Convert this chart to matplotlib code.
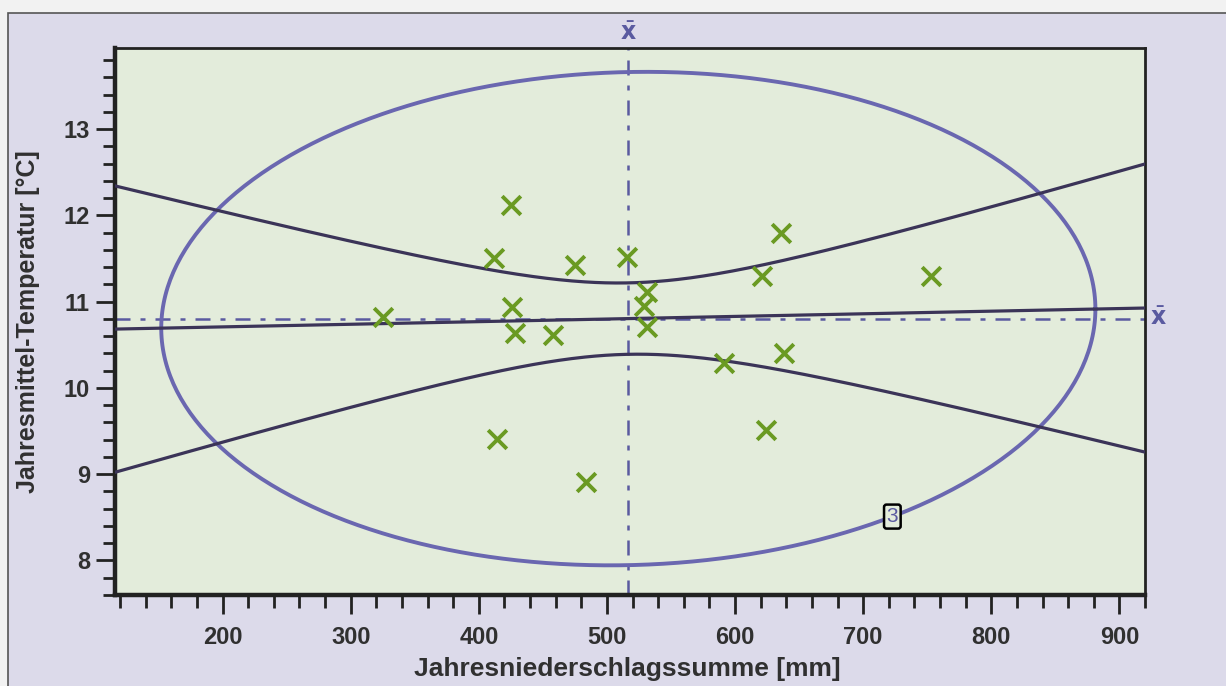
import numpy as np
import matplotlib.pyplot as plt
from matplotlib.patches import Rectangle

# Jahresniederschlag [mm] und Jahresmittel-Temperatur [°C]
niederschlag = [325, 425, 412, 475, 516, 636, 621, 531, 529, 531,
                426, 428, 458, 414, 484, 591, 638, 624, 753]
temperatur = [10.82, 12.12, 11.51, 11.42, 11.52, 11.80, 11.30, 11.11, 10.95, 10.71,
              10.94, 10.64, 10.61, 9.41, 8.91, 10.29, 10.40, 9.51, 11.30]

t_wert = 2.110        # t(0.975, n-2) fuer n = 19
chi2_3sigma = 11.829  # chi2(0.9973, 2) -> 3-sigma Ellipse
ellipse_label = "3"

plt.rcParams['font.family'] = ['Liberation Sans', 'DejaVu Sans']

X = np.array(niederschlag, dtype=float)
Y = np.array(temperatur, dtype=float)
n = X.size
xm, ym = X.mean(), Y.mean()

# Regression + Vertrauensband
b, a = np.polyfit(X, Y, 1)
res = Y - (a + b * X)
s = np.sqrt(np.sum(res**2) / (n - 2))
Sxx = np.sum((X - xm)**2)
xx = np.linspace(116, 920, 400)
yfit = a + b * xx
hw = t_wert * s * np.sqrt(1.0 / n + (xx - xm)**2 / Sxx)

# Streuellipse aus der Kovarianz
cov = np.cov(X, Y)
L = np.linalg.cholesky(cov)
k = np.sqrt(chi2_3sigma)
tt = np.linspace(0, 2 * np.pi, 400)
ell = np.array([xm, ym])[:, None] + k * L @ np.vstack([np.cos(tt), np.sin(tt)])

fig = plt.figure(figsize=(12.26, 6.86), dpi=100)
fig.patch.set_facecolor('#f2f2f2')
fig.patches.append(Rectangle((8 / 1226, -0.01), 1.0, (686 - 13) / 686 + 0.01,
                             transform=fig.transFigure, facecolor='#dcdaea',
                             edgecolor='#555555', linewidth=1.2, zorder=-10))

ax = fig.add_axes([115 / 1226, 1 - 595 / 686, 1030 / 1226, 547 / 686])
ax.set_zorder(1)
ax.set_facecolor('#e3ecdb')

lila = '#6a67b0'
dunkel = '#3b3458'
gruen = '#6a9a22'

ax.plot(ell[0], ell[1], color=lila, lw=2.8, zorder=3)
ax.plot(xx, yfit, color=dunkel, lw=2.3, zorder=3)
ax.plot(xx, yfit + hw, color=dunkel, lw=2.3, zorder=3)
ax.plot(xx, yfit - hw, color=dunkel, lw=2.3, zorder=3)
ax.axvline(xm, color='#5a5aa0', lw=1.8, ls=(0, (6, 4, 2, 4)), zorder=2)
ax.axhline(ym, color='#5a5aa0', lw=1.8, ls=(0, (6, 4, 2, 4)), zorder=2)

ax.scatter(X, Y, marker='x', s=180, color=gruen, linewidths=2.8, zorder=4)

# Beschriftung der Ellipse
t3 = -0.97
p3 = np.array([xm, ym]) + k * L @ np.array([np.cos(t3), np.sin(t3)])
ax.text(p3[0], p3[1], ellipse_label, color='#5a5aa0', fontsize=15,
        ha='center', va='center', zorder=5,
        bbox=dict(boxstyle='round,pad=0.12', facecolor='#e3ecdb',
                  edgecolor='black', linewidth=1.8))

ax.text(xm, 1.027, r'$\bar{\mathbf{x}}$', transform=ax.get_xaxis_transform(),
        color='#5a5aa0', fontsize=17, ha='center', va='center', clip_on=False)
ax.text(1.013, ym, r'$\bar{\mathbf{x}}$', transform=ax.get_yaxis_transform(),
        color='#5a5aa0', fontsize=17, ha='center', va='center', clip_on=False)

ax.set_xlim(116, 920)
ax.set_ylim(7.62, 13.94)
ax.set_xticks([200, 300, 400, 500, 600, 700, 800, 900])
ax.set_xticks(np.arange(120, 921, 20), minor=True)
ax.set_yticks([8, 9, 10, 11, 12, 13])
ax.set_yticks(np.arange(7.6, 13.95, 0.2), minor=True)

ax.tick_params(which='major', length=14, width=2.0, color='#222222',
               labelsize=17, labelcolor='#303030')
ax.tick_params(which='minor', length=9, width=2.0, color='#222222')
ax.tick_params(axis='x', which='major', pad=8)
ax.tick_params(axis='y', which='major', pad=4)
for lab in ax.get_xticklabels() + ax.get_yticklabels():
    lab.set_fontweight('bold')

for sp in ax.spines.values():
    sp.set_linewidth(2.0)
    sp.set_color('#222222')
ax.spines['bottom'].set_linewidth(3.2)
ax.spines['left'].set_linewidth(3.2)

ax.set_xlabel('Jahresniederschlagssumme [mm]', fontsize=19, fontweight='bold',
              color='#303030')
ax.set_ylabel('Jahresmittel-Temperatur [°C]', fontsize=18, fontweight='bold',
              color='#303030')
ax.xaxis.set_label_coords(0.497, -0.113)
ax.yaxis.set_label_coords(-0.073, 0.5)

fig.savefig('out.png', dpi=100, facecolor=fig.get_facecolor())
